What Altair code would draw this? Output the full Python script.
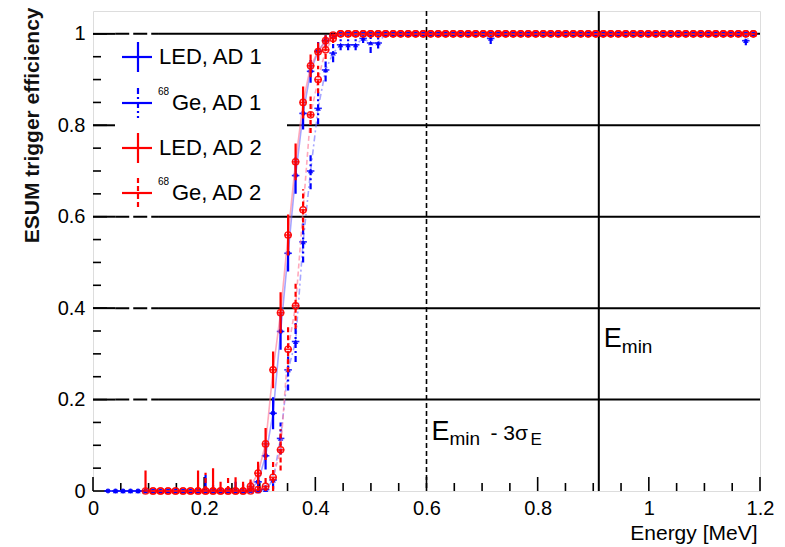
import altair as alt
import pandas as pd

# ---------------- data ----------------
ENERGY = [
    0.027, 0.0405, 0.054, 0.0675, 0.081, 0.0945, 0.108, 0.1215, 0.135, 0.1485,
    0.162, 0.1755, 0.189, 0.2025, 0.216, 0.2295, 0.243, 0.2565, 0.27, 0.2835,
    0.297, 0.3105, 0.324, 0.3375, 0.351, 0.3645, 0.378, 0.3915, 0.405, 0.4185,
    0.432, 0.4455, 0.459, 0.4725, 0.486, 0.4995, 0.513, 0.5265, 0.54, 0.5535,
    0.567, 0.5805, 0.594, 0.6075, 0.621, 0.6345, 0.648, 0.6615, 0.675, 0.6885,
    0.702, 0.7155, 0.729, 0.7425, 0.756, 0.7695, 0.783, 0.7965, 0.81, 0.8235,
    0.837, 0.8505, 0.864, 0.8775, 0.891, 0.9045, 0.918, 0.9315, 0.945, 0.9585,
    0.972, 0.9855, 0.999, 1.0125, 1.026, 1.0395, 1.053, 1.0665, 1.08, 1.0935,
    1.107, 1.1205, 1.134, 1.1475, 1.161, 1.1745, 1.188,
]

LED_AD1 = [
    0, 0, 0, 0, 0, 0, 0, 0, 0, 0,
    0, 0, 0, 0, 0, 0, 0, 0, 0, 0.005,
    0.02, 0.077, 0.17, 0.349, 0.52, 0.69, 0.826, 0.918, 0.962, 0.985,
    0.995, 1, 1, 1, 1, 1, 1, 1, 1, 1,
    1, 1, 1, 1, 1, 1, 1, 1, 1, 1,
    1, 1, 1, 1, 1, 1, 1, 1, 1, 1,
    1, 1, 1, 1, 1, 1, 1, 1, 1, 1,
    1, 1, 1, 1, 1, 1, 1, 1, 1, 1,
    1, 1, 1, 1, 1, 1, 1,
]
LED_AD1_ERR = [
    0, 0, 0, 0, 0, 0, 0, 0, 0, 0,
    0, 0, 0, 0.035, 0, 0, 0, 0.02, 0.015, 0.01,
    0.02, 0.03, 0.035, 0.04, 0.04, 0.04, 0.035, 0.025, 0.02, 0.012,
    0.006, 0, 0, 0, 0, 0, 0, 0, 0, 0,
    0, 0, 0, 0, 0, 0, 0, 0, 0, 0,
    0, 0, 0, 0, 0, 0, 0, 0, 0, 0,
    0, 0, 0, 0, 0, 0, 0, 0, 0, 0,
    0, 0, 0, 0, 0, 0, 0, 0, 0, 0,
    0, 0, 0, 0, 0, 0, 0,
]

GE_AD1 = [
    None, 0, 0, 0, 0, 0, 0, 0, 0, 0,
    0, 0, 0, 0, 0, 0, 0, 0, 0, 0,
    0, 0.003, 0.024, 0.115, 0.265, 0.327, 0.545, 0.70, 0.837, 0.921,
    0.958, 0.976, 0.976, 0.976, 0.99, 0.98, 0.98, 1, 1, 1,
    1, 1, 1, 1, 1, 1, 1, 1, 1, 1,
    1, 0.99, 1, 1, 1, 1, 1, 1, 1, 1,
    1, 1, 1, 1, 1, 1, 1, 1, 1, 1,
    1, 1, 1, 1, 1, 1, 1, 1, 1, 1,
    1, 1, 1, 1, 1, 0.985, 1,
]
GE_AD1_ERR = [
    0, 0, 0, 0, 0, 0, 0, 0, 0, 0,
    0, 0, 0, 0, 0.02, 0, 0, 0, 0, 0,
    0, 0.01, 0.02, 0.035, 0.045, 0.045, 0.045, 0.04, 0.035, 0.025,
    0.02, 0.012, 0.012, 0.012, 0.01, 0.022, 0.012, 0, 0, 0,
    0, 0, 0, 0, 0, 0, 0, 0, 0, 0,
    0, 0.012, 0, 0, 0, 0, 0, 0, 0, 0,
    0, 0, 0, 0, 0, 0, 0, 0, 0, 0,
    0, 0, 0, 0, 0, 0, 0, 0, 0, 0,
    0, 0, 0, 0, 0, 0.01, 0,
]

LED_AD2 = [
    None, None, None, None, None, 0, 0, 0, 0, 0,
    0, 0, 0, 0, 0, 0, 0, 0, 0, 0.01,
    0.039, 0.103, 0.265, 0.39, 0.56, 0.72, 0.85, 0.93, 0.961, 0.985,
    0.997, 1, 1, 1, 1, 1, 1, 1, 1, 1,
    1, 1, 1, 1, 1, 1, 1, 1, 1, 1,
    1, 1, 1, 1, 1, 1, 1, 1, 1, 1,
    1, 1, 1, 1, 1, 1, 1, 1, 1, 1,
    1, 1, 1, 1, 1, 1, 1, 1, 1, 1,
    1, 1, 1, 1, 1, 1, 1,
]
LED_AD2_ERR = [
    0, 0, 0, 0, 0, 0.045, 0, 0, 0, 0,
    0, 0, 0.045, 0, 0.05, 0.02, 0, 0.03, 0.02, 0.015,
    0.025, 0.035, 0.04, 0.045, 0.045, 0.04, 0.035, 0.025, 0.02, 0.012,
    0.005, 0, 0, 0, 0, 0, 0, 0, 0, 0,
    0, 0, 0, 0, 0, 0, 0, 0, 0, 0,
    0, 0, 0, 0, 0, 0, 0, 0, 0, 0,
    0, 0, 0, 0, 0, 0, 0, 0, 0, 0,
    0, 0, 0, 0, 0, 0, 0, 0, 0, 0,
    0, 0, 0, 0, 0, 0, 0,
]

GE_AD2 = [
    None, None, None, None, None, None, 0, 0, 0, 0,
    0, 0, 0, 0, 0, 0, 0, 0, 0, 0,
    0.003, 0.01, 0.03, 0.09, 0.31, 0.405, 0.615, 0.823, 0.90, 0.965,
    0.99, 1, 1, 1, 1, 1, 1, 1, 1, 1,
    1, 1, 1, 1, 1, 1, 1, 1, 1, 1,
    1, 1, 1, 1, 1, 1, 1, 1, 1, 1,
    1, 1, 1, 1, 1, 1, 1, 1, 1, 1,
    1, 1, 1, 1, 1, 1, 1, 1, 1, 1,
    1, 1, 1, 1, 1, 1, 1,
]
GE_AD2_ERR = [
    0, 0, 0, 0, 0, 0, 0, 0, 0, 0,
    0, 0, 0, 0.04, 0, 0, 0.03, 0, 0, 0.02,
    0.02, 0.025, 0.035, 0.045, 0.05, 0.05, 0.045, 0.04, 0.03, 0.02,
    0.01, 0, 0, 0, 0, 0, 0, 0, 0, 0,
    0, 0, 0, 0, 0, 0, 0, 0, 0, 0,
    0, 0, 0, 0, 0, 0, 0, 0, 0, 0,
    0, 0, 0, 0, 0, 0, 0, 0, 0, 0,
    0, 0, 0, 0, 0, 0, 0, 0, 0, 0,
    0, 0, 0, 0, 0, 0, 0,
]

HALF_BIN = 0.0068
X_MAJOR = [0, 0.2, 0.4, 0.6, 0.8, 1.0, 1.2]
X_MINOR = [0.05, 0.1, 0.15, 0.25, 0.3, 0.35, 0.45, 0.5, 0.55, 0.65, 0.7, 0.75,
           0.85, 0.9, 0.95, 1.05, 1.1, 1.15]
Y_MAJOR = [0, 0.2, 0.4, 0.6, 0.8, 1.0]
Y_MINOR = [0.05, 0.1, 0.15, 0.25, 0.3, 0.35, 0.45, 0.5, 0.55, 0.65, 0.7, 0.75,
           0.85, 0.9, 0.95]
GRID_Y = [0.2, 0.4, 0.6, 0.8, 1.0]
GRID_DASH_FROM, GRID_DASH_TO = 0.04, 0.117
E_MIN = 0.91
E_MIN_3SIGMA = 0.6

# ---------------- styling ----------------
W, H = 667, 480
FONT = "Liberation Sans"
BLUE, RED = "#0000ff", "#ff0000"

xs = alt.Scale(domain=[0, 1.2], nice=False, zero=False)
ys = alt.Scale(domain=[0, 1.05], nice=False, zero=False)

X_AX = alt.Axis(values=X_MAJOR, format="~g", ticks=False, domain=False, grid=False,
                labelFont=FONT, labelFontSize=20, labelColor="black", labelPadding=7,
                labelFlush=False, labelOverlap=False,
                title="Energy [MeV]", titleFont=FONT, titleFontSize=21,
                titleFontWeight="normal", titleColor="black",
                titleX=664, titleY=48, titleAlign="right", titleBaseline="alphabetic")
Y_AX = alt.Axis(values=Y_MAJOR, format="~g", ticks=False, domain=False, grid=False,
                labelFont=FONT, labelFontSize=20, labelColor="black", labelPadding=8,
                labelFlush=False, labelOverlap=False,
                title="ESUM trigger efficiency", titleFont=FONT, titleFontSize=21,
                titleFontWeight="bold", titleColor="#111111", titleAngle=270,
                titleX=-55, titleY=-4, titleAlign="right", titleBaseline="alphabetic")


def X(f):
    return alt.X(f, type="quantitative", scale=xs, axis=X_AX)


def Y(f):
    return alt.Y(f, type="quantitative", scale=ys, axis=Y_AX)


one = pd.DataFrame({"a": [0]})
layers = []

# grid lines (solid with a dashed stretch near the left edge)
grid_rows = []
for g in GRID_Y:
    grid_rows.append(dict(gy=g, x0=0.0, x1=GRID_DASH_FROM, kind="solid"))
    grid_rows.append(dict(gy=g, x0=GRID_DASH_FROM, x1=GRID_DASH_TO, kind="dash"))
    grid_rows.append(dict(gy=g, x0=GRID_DASH_TO, x1=1.2, kind="solid"))
grid_df = pd.DataFrame(grid_rows)
layers.append(alt.Chart(grid_df[grid_df.kind == "solid"]).mark_rule(color="black", strokeWidth=2)
              .encode(x=X("x0:Q"), x2="x1:Q", y=Y("gy:Q")))
layers.append(alt.Chart(grid_df[grid_df.kind == "dash"]).mark_rule(color="black", strokeWidth=2,
                                                                  strokeDash=[14, 4])
              .encode(x=X("x0:Q"), x2="x1:Q", y=Y("gy:Q")))

# vertical reference lines
layers.append(alt.Chart(pd.DataFrame({"e": [E_MIN]})).mark_rule(color="black", strokeWidth=2)
              .encode(x=X("e:Q"), y=alt.value(0), y2=alt.value(H)))
layers.append(alt.Chart(pd.DataFrame({"e": [E_MIN_3SIGMA]}))
              .mark_rule(color="black", strokeWidth=1.6, strokeDash=[5, 3])
              .encode(x=X("e:Q"), y=alt.value(0), y2=alt.value(H)))

# inward axis ticks
layers.append(alt.Chart(pd.DataFrame({"v": X_MAJOR})).mark_rule(color="black", strokeWidth=1.6)
              .encode(x=X("v:Q"), y=alt.value(H), y2=alt.value(H - 14)))
layers.append(alt.Chart(pd.DataFrame({"v": X_MINOR})).mark_rule(color="black", strokeWidth=1.6)
              .encode(x=X("v:Q"), y=alt.value(H), y2=alt.value(H - 8)))
layers.append(alt.Chart(pd.DataFrame({"v": Y_MAJOR})).mark_rule(color="black", strokeWidth=1.6)
              .encode(y=Y("v:Q"), x=alt.value(0), x2=alt.value(14)))
layers.append(alt.Chart(pd.DataFrame({"v": Y_MINOR})).mark_rule(color="black", strokeWidth=1.6)
              .encode(y=Y("v:Q"), x=alt.value(0), x2=alt.value(8)))

# legend background
layers.append(alt.Chart(one).mark_rect(color="white")
              .encode(x=alt.value(22), x2=alt.value(194), y=alt.value(27), y2=alt.value(199)))

# series
SERIES = [
    dict(name="Ge68, AD 1", ys=GE_AD1, err=GE_AD1_ERR, color=BLUE, line="#6a6aff",
         dash=[6, 3, 2, 3], shape="triangle-up", filled=True, size=30),
    dict(name="LED, AD 1", ys=LED_AD1, err=LED_AD1_ERR, color=BLUE, line="#6a6aff",
         dash=[1, 0], shape="circle", filled=True, size=24),
    dict(name="Ge68, AD 2", ys=GE_AD2, err=GE_AD2_ERR, color=RED, line="#ff7090",
         dash=[5, 3], shape="circle", filled=False, size=40),
    dict(name="LED, AD 2", ys=LED_AD2, err=LED_AD2_ERR, color=RED, line="#ff7090",
         dash=[1, 0], shape="circle", filled=False, size=40),
]

for s in SERIES:
    rows = []
    for e, y, er in zip(ENERGY, s["ys"], s["err"]):
        if y is None:
            continue
        rows.append(dict(energy=e, eff=y, err=er, lo=max(0.0, y - er), hi=min(1.0, y + er),
                         elo=e - HALF_BIN, ehi=e + HALF_BIN))
    df = pd.DataFrame(rows)
    layers.append(alt.Chart(df).mark_line(color=s["line"], strokeWidth=1.6, opacity=0.6,
                                          strokeDash=s["dash"])
                  .encode(x=X("energy:Q"), y=Y("eff:Q")))
    layers.append(alt.Chart(df).mark_rule(color=s["color"], strokeWidth=1.6, opacity=0.85)
                  .encode(x=X("elo:Q"), x2="ehi:Q", y=Y("eff:Q")))
    layers.append(alt.Chart(df[df.err > 0]).mark_rule(color=s["color"], strokeWidth=2.2,
                                                      strokeDash=s["dash"])
                  .encode(x=X("energy:Q"), y=Y("lo:Q"), y2="hi:Q"))
    layers.append(alt.Chart(df).mark_point(shape=s["shape"], filled=s["filled"], size=s["size"],
                                           color=s["color"], strokeWidth=1.4, opacity=0.9)
                  .encode(x=X("energy:Q"), y=Y("eff:Q")))

# legend entries
LEGEND = [
    ("LED, AD 1", BLUE, [1, 0], False),
    ("Ge, AD 1", BLUE, [6, 3, 2, 3], True),
    ("LED, AD 2", RED, [1, 0], False),
    ("Ge, AD 2", RED, [5, 3], True),
]
LEG_Y = [46, 92, 137, 182]
for (label, col, dash, iso), cy in zip(LEGEND, LEG_Y):
    layers.append(alt.Chart(one).mark_rule(color=col, strokeWidth=2.2)
                  .encode(x=alt.value(29), x2=alt.value(59), y=alt.value(cy)))
    layers.append(alt.Chart(one).mark_rule(color=col, strokeWidth=2.2, strokeDash=dash)
                  .encode(x=alt.value(45), y=alt.value(cy - 15), y2=alt.value(cy + 15)))
    if iso:
        layers.append(alt.Chart(one).mark_text(font=FONT, fontSize=10, align="left",
                                               baseline="middle", color="black")
                      .encode(x=alt.value(65), y=alt.value(cy - 11), text=alt.value("68")))
        tx = 79
    else:
        tx = 66
    layers.append(alt.Chart(one).mark_text(font=FONT, fontSize=22, align="left",
                                           baseline="middle", color="black")
                  .encode(x=alt.value(tx), y=alt.value(cy), text=alt.value(label)))

# annotations
def txt(xv, yv, s, size, dx, dy):
    return (alt.Chart(one).mark_text(font=FONT, fontSize=size, align="left",
                                     baseline="alphabetic", color="black", dx=dx, dy=dy)
            .encode(x=alt.X(datum=xv, scale=xs, axis=X_AX),
                    y=alt.Y(datum=yv, scale=ys, axis=Y_AX),
                    text=alt.value(s)))

layers.append(txt(E_MIN, 0.315, "E", 27, 5, 0))
layers.append(txt(E_MIN, 0.315, "min", 19, 23, 6))
layers.append(txt(E_MIN_3SIGMA, 0.1116, "E", 27, 5, 0))
layers.append(txt(E_MIN_3SIGMA, 0.1116, "min", 19, 23, 5))
layers.append(txt(E_MIN_3SIGMA, 0.1116, "- 3σ", 21, 64, 0))
layers.append(txt(E_MIN_3SIGMA, 0.1116, "E", 17, 104, 5))

chart = (alt.layer(*layers)
         .properties(width=W, height=H,
                     padding={"left": 85, "top": 3, "right": 15, "bottom": 55},
                     autosize=alt.AutoSizeParams(type="none"))
         .configure_view(stroke="#1a1a1a", strokeWidth=2)
         .configure(background="white"))

chart.save("out.html", embed_options={"renderer": "svg", "actions": False})
